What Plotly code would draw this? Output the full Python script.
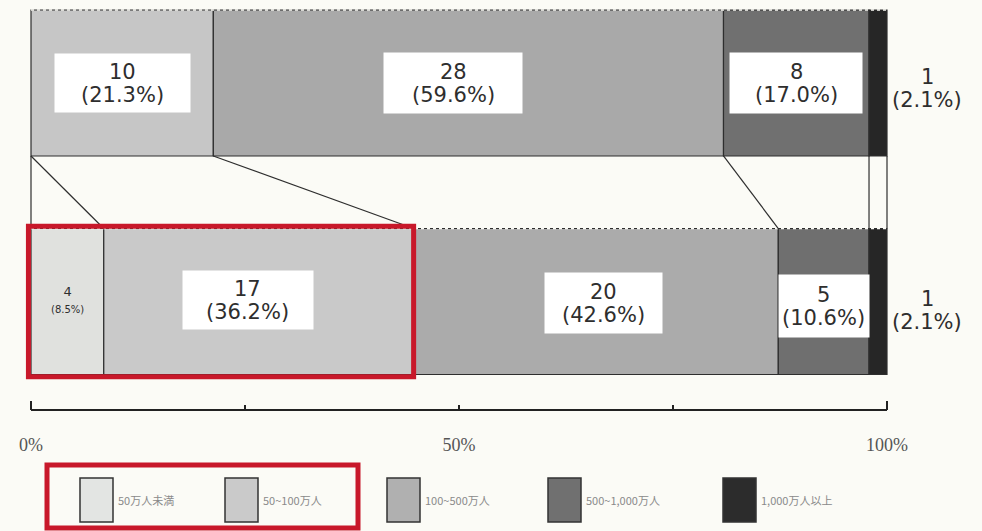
import plotly.graph_objects as go

# ---- data -------------------------------------------------------------
ROWS = ["内訳", "全体"]                      # bottom row, top row (category order)
top_counts = [10, 28, 8, 1]
bottom_counts = [4, 17, 20, 5, 1]
legend_labels = ["50万人未満", "50~100万人", "100~500万人", "500~1,000万人", "1,000万人以上"]
axis_ticks = [0, 25, 50, 75, 100]
axis_ticktext = ["0%", "", "50%", "", "100%"]

# ---- styles -----------------------------------------------------------
W, H = 982, 531
BG = "#fbfbf6"
INK = "#2e2e2e"
RED = "#c8182a"
top_colors = ["#c6c6c6", "#a9a9a9", "#707070", "#262626"]
bottom_colors = ["#e0e1de", "#c9c9c9", "#ababab", "#6f6f6f", "#262626"]
legend_colors = ["#e3e5e3", "#cacaca", "#b0b0b0", "#707070", "#2c2c2c"]
BAR_W = 0.668
LABEL_FONT = dict(family="DejaVu Sans", size=21, color=INK)

# horizontal scale: 0% at x=31px, 100% at x=887px, plot spans the full width
X0_PX, X100_PX = 31, 887
u_per_px = 100 / (X100_PX - X0_PX)
x_lo = -X0_PX * u_per_px
x_hi = (W - X0_PX) * u_per_px


def percents(counts):
    total = sum(counts)
    return [round(c / total * 100, 1) for c in counts]


def bounds(pcts):
    out = [0.0]
    for p in pcts:
        out.append(out[-1] + p)
    return out


top_pct = percents(top_counts)
bot_pct = percents(bottom_counts)
top_b = bounds(top_pct)
bot_b = bounds(bot_pct)

fig = go.Figure()


def add_row(row, pcts, colors):
    starts = bounds(pcts)[:-1]
    for p, s, c in zip(pcts, starts, colors):
        fig.add_trace(go.Bar(
            x=[p], base=[s], y=[row], orientation="h", width=BAR_W,
            marker=dict(color=c, line=dict(color=INK, width=1.2)),
            showlegend=False, hoverinfo="skip"))


add_row(ROWS[1], top_pct, top_colors)
add_row(ROWS[0], bot_pct, bottom_colors)

shapes = []
# dashed top edge of each bar
for yc in (1, 0):
    shapes.append(dict(type="line", xref="x", yref="y", x0=0, x1=100,
                       y0=yc + BAR_W / 2, y1=yc + BAR_W / 2,
                       line=dict(color=BG, width=1.4, dash="3px,3px")))

# connector lines from the upper bar boundaries to the lower bar boundaries
links = [(0, 0), (0, 1), (1, 2), (2, 3), (3, 4), (4, 5)]
for ti, bi in links:
    shapes.append(dict(type="line", xref="x", yref="y",
                       x0=top_b[ti], y0=1 - BAR_W / 2,
                       x1=bot_b[bi], y1=BAR_W / 2,
                       line=dict(color=INK, width=1.2)))

# red highlight around the first two lower segments
shapes.append(dict(type="rect", xref="x", yref="y",
                   x0=-0.3, x1=bot_b[2], y0=-BAR_W / 2 - 0.01, y1=BAR_W / 2 + 0.01,
                   line=dict(color=RED, width=5), fillcolor="rgba(0,0,0,0)"))

# percentage axis line
axis_y = 1 - 410 / H
shapes.append(dict(type="line", xref="x", yref="paper", x0=0, x1=100,
                   y0=axis_y, y1=axis_y, line=dict(color="#222222", width=2)))
# taller end ticks
for xv in (axis_ticks[0], axis_ticks[-1]):
    shapes.append(dict(type="line", xref="x", yref="paper", x0=xv, x1=xv,
                       y0=axis_y, y1=axis_y + 9 / H, line=dict(color="#222222", width=2)))

# legend swatches
sw_x = [80, 225, 387, 548, 723]
for xs, col in zip(sw_x, legend_colors):
    shapes.append(dict(type="rect", xref="paper", yref="paper",
                       x0=xs / W, x1=(xs + 33) / W, y0=1 - 522 / H, y1=1 - 478 / H,
                       fillcolor=col, line=dict(color="#333333", width=1.5)))
# red box around the first two legend entries
shapes.append(dict(type="rect", xref="paper", yref="paper",
                   x0=47 / W, x1=358 / W, y0=1 - 528 / H, y1=1 - 465 / H,
                   line=dict(color=RED, width=5), fillcolor="rgba(0,0,0,0)"))

annotations = []


def two_line_label(x, row, count, pct, xshift=0, yshift=0, box=None):
    """White box (optional) holding the count on one line and the share below."""
    if box is not None:
        w, h = box
        annotations.append(dict(
            x=x, y=row, xref="x", yref="y", showarrow=False, text=" ",
            bgcolor="white", width=w, height=h, borderpad=0,
            xshift=xshift, yshift=yshift))
    annotations.append(dict(
        x=x, y=row, xref="x", yref="y", showarrow=False, text=f"{count}",
        font=LABEL_FONT, xshift=xshift, yshift=yshift + 11))
    annotations.append(dict(
        x=x, y=row, xref="x", yref="y", showarrow=False, text=f"({pct:.1f}%)",
        font=LABEL_FONT, xshift=xshift, yshift=yshift - 12))


def seg_label(row, pcts, counts, i, w, h, xshift=0, yshift=0):
    x = bounds(pcts)[i] + pcts[i] / 2
    two_line_label(x, row, counts[i], pcts[i], xshift, yshift, box=(w, h))


seg_label(ROWS[1], top_pct, top_counts, 0, 135, 58)
seg_label(ROWS[1], top_pct, top_counts, 1, 138, 60, xshift=-15)
seg_label(ROWS[1], top_pct, top_counts, 2, 132, 60)
seg_label(ROWS[0], bot_pct, bottom_counts, 1, 130, 58, xshift=-11, yshift=2)
seg_label(ROWS[0], bot_pct, bottom_counts, 2, 117, 60, xshift=8, yshift=-1)
seg_label(ROWS[0], bot_pct, bottom_counts, 3, 90, 62, yshift=-4)

# small label inside the narrow first lower segment
annotations.append(dict(
    x=bot_pct[0] / 2, y=ROWS[0], xref="x", yref="y", showarrow=False,
    text=f"{bottom_counts[0]}<br><span style='font-size:10px'>({bot_pct[0]:.1f}%)</span>",
    font=dict(family="DejaVu Sans", size=13, color=INK), yshift=2))

# labels for the last (thin) segment, placed to the right of the bars
two_line_label(100, ROWS[1], top_counts[-1], top_pct[-1], xshift=40, yshift=-5)
two_line_label(100, ROWS[0], bottom_counts[-1], bot_pct[-1], xshift=40, yshift=-8)

# legend texts
for xs, lab in zip(sw_x, legend_labels):
    annotations.append(dict(
        x=(xs + 36) / W, y=1 - 500 / H, xref="paper", yref="paper",
        xanchor="left", yanchor="middle", showarrow=False, text=lab,
        font=dict(family="Noto Sans CJK JP", size=11, color="#8a8a8a")))

# category axis placed so the two bars sit at their rows
px_per_unit = 218.5
y_lo = -(H - 301.5) / px_per_unit
y_hi = y_lo + H / px_per_unit

fig.update_layout(
    width=W, height=H, margin=dict(l=0, r=0, t=0, b=0),
    paper_bgcolor=BG, plot_bgcolor=BG, barmode="overlay", showlegend=False,
    xaxis=dict(domain=[0, 1], range=[x_lo, x_hi], anchor="free",
               position=axis_y, showgrid=False, zeroline=False,
               showline=False, automargin=False,
               ticks="inside", ticklen=5, tickwidth=2, tickcolor="#222222",
               tickvals=axis_ticks, ticktext=axis_ticktext,
               ticklabelstandoff=22,
               tickfont=dict(family="Liberation Serif", size=18, color="#555555")),
    yaxis=dict(type="category", categoryarray=ROWS, range=[y_lo, y_hi],
               domain=[0, 1], visible=False, automargin=False),
    shapes=shapes, annotations=annotations,
)

fig.write_html("out.html")
